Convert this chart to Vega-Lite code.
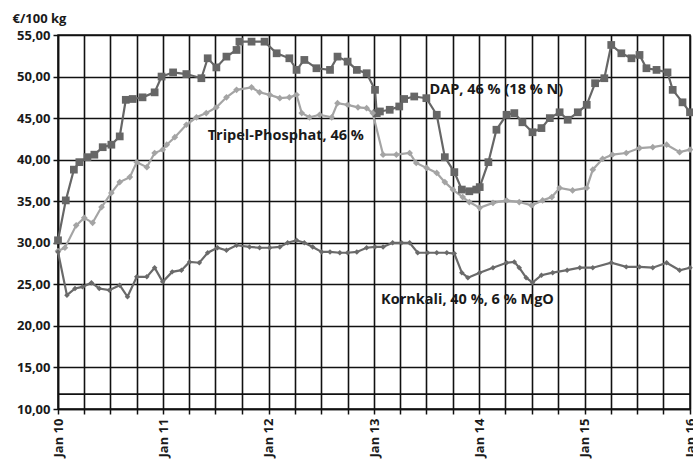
{
  "$schema": "https://vega.github.io/schema/vega-lite/v6.json",
  "autosize": {"type": "none"},
  "width": 632,
  "height": 374,
  "padding": {"left": 58, "top": 35, "right": 3, "bottom": 54},
  "background": "#ffffff",
  "config": {
    "font": "Open Sans",
    "view": {"stroke": "#111111", "strokeWidth": 1.5},
    "axis": {
      "domainColor": "#111111",
      "domainWidth": 1.5,
      "gridColor": "#111111",
      "gridWidth": 1.6,
      "gridOpacity": 1,
      "tickColor": "#111111",
      "tickWidth": 1.5,
      "tickSize": 5,
      "labelFont": "Open Sans",
      "labelFontWeight": "bold",
      "labelFontSize": 13,
      "labelColor": "#1a1a1a"
    }
  },
  "datasets": {
    "prices": [
      {"s": "DAP", "d": "2010-01-01", "v": 30.3},
      {"s": "DAP", "d": "2010-01-28", "v": 35.1},
      {"s": "DAP", "d": "2010-02-25", "v": 38.8},
      {"s": "DAP", "d": "2010-03-16", "v": 39.7},
      {"s": "DAP", "d": "2010-04-13", "v": 40.3},
      {"s": "DAP", "d": "2010-05-07", "v": 40.6},
      {"s": "DAP", "d": "2010-06-05", "v": 41.5},
      {"s": "DAP", "d": "2010-07-05", "v": 41.8},
      {"s": "DAP", "d": "2010-08-03", "v": 42.8},
      {"s": "DAP", "d": "2010-08-24", "v": 47.2},
      {"s": "DAP", "d": "2010-09-17", "v": 47.3},
      {"s": "DAP", "d": "2010-10-21", "v": 47.5},
      {"s": "DAP", "d": "2010-12-02", "v": 48.1},
      {"s": "DAP", "d": "2010-12-26", "v": 50.0},
      {"s": "DAP", "d": "2011-02-04", "v": 50.5},
      {"s": "DAP", "d": "2011-03-22", "v": 50.3},
      {"s": "DAP", "d": "2011-05-13", "v": 49.8},
      {"s": "DAP", "d": "2011-06-04", "v": 52.2},
      {"s": "DAP", "d": "2011-07-04", "v": 51.1},
      {"s": "DAP", "d": "2011-08-08", "v": 52.4},
      {"s": "DAP", "d": "2011-09-12", "v": 53.2},
      {"s": "DAP", "d": "2011-09-22", "v": 54.2},
      {"s": "DAP", "d": "2011-11-03", "v": 54.2},
      {"s": "DAP", "d": "2011-12-18", "v": 54.2},
      {"s": "DAP", "d": "2012-01-29", "v": 52.8},
      {"s": "DAP", "d": "2012-03-13", "v": 52.2},
      {"s": "DAP", "d": "2012-04-07", "v": 50.8},
      {"s": "DAP", "d": "2012-05-04", "v": 52.0},
      {"s": "DAP", "d": "2012-06-15", "v": 51.0},
      {"s": "DAP", "d": "2012-08-01", "v": 50.8},
      {"s": "DAP", "d": "2012-08-27", "v": 52.4},
      {"s": "DAP", "d": "2012-10-01", "v": 51.8},
      {"s": "DAP", "d": "2012-11-02", "v": 50.8},
      {"s": "DAP", "d": "2012-12-06", "v": 50.4},
      {"s": "DAP", "d": "2013-01-04", "v": 48.4},
      {"s": "DAP", "d": "2013-01-10", "v": 45.6},
      {"s": "DAP", "d": "2013-01-21", "v": 45.8},
      {"s": "DAP", "d": "2013-02-24", "v": 46.0},
      {"s": "DAP", "d": "2013-03-29", "v": 46.4},
      {"s": "DAP", "d": "2013-04-15", "v": 47.3},
      {"s": "DAP", "d": "2013-05-20", "v": 47.6},
      {"s": "DAP", "d": "2013-07-01", "v": 47.4},
      {"s": "DAP", "d": "2013-08-06", "v": 45.4},
      {"s": "DAP", "d": "2013-09-03", "v": 40.3},
      {"s": "DAP", "d": "2013-10-06", "v": 38.5},
      {"s": "DAP", "d": "2013-11-01", "v": 36.4},
      {"s": "DAP", "d": "2013-11-27", "v": 36.2},
      {"s": "DAP", "d": "2013-12-21", "v": 36.4},
      {"s": "DAP", "d": "2014-01-02", "v": 36.7},
      {"s": "DAP", "d": "2014-02-01", "v": 39.7},
      {"s": "DAP", "d": "2014-03-01", "v": 43.6},
      {"s": "DAP", "d": "2014-04-05", "v": 45.4},
      {"s": "DAP", "d": "2014-05-02", "v": 45.6},
      {"s": "DAP", "d": "2014-05-30", "v": 44.5},
      {"s": "DAP", "d": "2014-07-04", "v": 43.3},
      {"s": "DAP", "d": "2014-08-04", "v": 43.8},
      {"s": "DAP", "d": "2014-09-02", "v": 45.0},
      {"s": "DAP", "d": "2014-10-06", "v": 45.7},
      {"s": "DAP", "d": "2014-11-03", "v": 44.8},
      {"s": "DAP", "d": "2014-12-08", "v": 45.7},
      {"s": "DAP", "d": "2015-01-08", "v": 46.6},
      {"s": "DAP", "d": "2015-02-06", "v": 49.2},
      {"s": "DAP", "d": "2015-03-10", "v": 49.8},
      {"s": "DAP", "d": "2015-04-03", "v": 53.8},
      {"s": "DAP", "d": "2015-05-08", "v": 52.8},
      {"s": "DAP", "d": "2015-06-12", "v": 52.2},
      {"s": "DAP", "d": "2015-07-10", "v": 52.6},
      {"s": "DAP", "d": "2015-08-03", "v": 51.0},
      {"s": "DAP", "d": "2015-09-07", "v": 50.8},
      {"s": "DAP", "d": "2015-10-15", "v": 50.5},
      {"s": "DAP", "d": "2015-11-02", "v": 48.4},
      {"s": "DAP", "d": "2015-12-06", "v": 46.9},
      {"s": "DAP", "d": "2016-01-01", "v": 45.7},

      {"s": "Tripel", "d": "2010-01-01", "v": 29.0},
      {"s": "Tripel", "d": "2010-01-25", "v": 29.4},
      {"s": "Tripel", "d": "2010-03-05", "v": 32.1},
      {"s": "Tripel", "d": "2010-04-02", "v": 33.0},
      {"s": "Tripel", "d": "2010-05-01", "v": 32.4},
      {"s": "Tripel", "d": "2010-06-01", "v": 34.3},
      {"s": "Tripel", "d": "2010-07-05", "v": 36.0},
      {"s": "Tripel", "d": "2010-08-03", "v": 37.3},
      {"s": "Tripel", "d": "2010-09-07", "v": 37.9},
      {"s": "Tripel", "d": "2010-10-01", "v": 39.7},
      {"s": "Tripel", "d": "2010-11-05", "v": 39.1},
      {"s": "Tripel", "d": "2010-12-02", "v": 40.8},
      {"s": "Tripel", "d": "2010-12-30", "v": 41.2},
      {"s": "Tripel", "d": "2011-01-13", "v": 41.8},
      {"s": "Tripel", "d": "2011-02-10", "v": 42.7},
      {"s": "Tripel", "d": "2011-03-22", "v": 44.2},
      {"s": "Tripel", "d": "2011-04-26", "v": 45.1},
      {"s": "Tripel", "d": "2011-05-30", "v": 45.6},
      {"s": "Tripel", "d": "2011-07-04", "v": 46.3},
      {"s": "Tripel", "d": "2011-08-08", "v": 47.5},
      {"s": "Tripel", "d": "2011-09-12", "v": 48.4},
      {"s": "Tripel", "d": "2011-11-03", "v": 48.7},
      {"s": "Tripel", "d": "2011-12-01", "v": 48.1},
      {"s": "Tripel", "d": "2012-01-05", "v": 47.8},
      {"s": "Tripel", "d": "2012-02-09", "v": 47.4},
      {"s": "Tripel", "d": "2012-03-13", "v": 47.5},
      {"s": "Tripel", "d": "2012-04-07", "v": 47.8},
      {"s": "Tripel", "d": "2012-04-25", "v": 45.6},
      {"s": "Tripel", "d": "2012-05-22", "v": 45.1},
      {"s": "Tripel", "d": "2012-06-26", "v": 45.4},
      {"s": "Tripel", "d": "2012-08-07", "v": 45.1},
      {"s": "Tripel", "d": "2012-08-27", "v": 46.8},
      {"s": "Tripel", "d": "2012-10-01", "v": 46.6},
      {"s": "Tripel", "d": "2012-11-06", "v": 46.3},
      {"s": "Tripel", "d": "2012-12-06", "v": 46.2},
      {"s": "Tripel", "d": "2012-12-27", "v": 45.6},
      {"s": "Tripel", "d": "2013-02-01", "v": 40.6},
      {"s": "Tripel", "d": "2013-03-19", "v": 40.6},
      {"s": "Tripel", "d": "2013-05-04", "v": 40.8},
      {"s": "Tripel", "d": "2013-05-27", "v": 39.6},
      {"s": "Tripel", "d": "2013-07-02", "v": 39.0},
      {"s": "Tripel", "d": "2013-08-06", "v": 38.4},
      {"s": "Tripel", "d": "2013-09-03", "v": 37.3},
      {"s": "Tripel", "d": "2013-10-01", "v": 36.4},
      {"s": "Tripel", "d": "2013-11-04", "v": 35.5},
      {"s": "Tripel", "d": "2013-11-27", "v": 34.9},
      {"s": "Tripel", "d": "2014-01-02", "v": 34.2},
      {"s": "Tripel", "d": "2014-02-17", "v": 34.8},
      {"s": "Tripel", "d": "2014-04-05", "v": 35.1},
      {"s": "Tripel", "d": "2014-05-19", "v": 34.9},
      {"s": "Tripel", "d": "2014-07-01", "v": 34.5},
      {"s": "Tripel", "d": "2014-08-08", "v": 35.1},
      {"s": "Tripel", "d": "2014-09-09", "v": 35.5},
      {"s": "Tripel", "d": "2014-10-06", "v": 36.6},
      {"s": "Tripel", "d": "2014-11-20", "v": 36.3},
      {"s": "Tripel", "d": "2015-01-08", "v": 36.6},
      {"s": "Tripel", "d": "2015-01-29", "v": 38.8},
      {"s": "Tripel", "d": "2015-03-04", "v": 40.1},
      {"s": "Tripel", "d": "2015-04-07", "v": 40.6},
      {"s": "Tripel", "d": "2015-05-25", "v": 40.8},
      {"s": "Tripel", "d": "2015-07-10", "v": 41.4},
      {"s": "Tripel", "d": "2015-08-25", "v": 41.5},
      {"s": "Tripel", "d": "2015-10-12", "v": 41.8},
      {"s": "Tripel", "d": "2015-11-26", "v": 40.9},
      {"s": "Tripel", "d": "2016-01-01", "v": 41.2},

      {"s": "Kornkali", "d": "2010-01-01", "v": 28.9},
      {"s": "Kornkali", "d": "2010-02-01", "v": 23.7},
      {"s": "Kornkali", "d": "2010-03-01", "v": 24.5},
      {"s": "Kornkali", "d": "2010-03-27", "v": 24.7},
      {"s": "Kornkali", "d": "2010-04-27", "v": 25.2},
      {"s": "Kornkali", "d": "2010-05-24", "v": 24.5},
      {"s": "Kornkali", "d": "2010-06-28", "v": 24.3},
      {"s": "Kornkali", "d": "2010-08-03", "v": 24.9},
      {"s": "Kornkali", "d": "2010-08-30", "v": 23.5},
      {"s": "Kornkali", "d": "2010-10-01", "v": 25.9},
      {"s": "Kornkali", "d": "2010-11-05", "v": 25.9},
      {"s": "Kornkali", "d": "2010-12-02", "v": 27.0},
      {"s": "Kornkali", "d": "2010-12-30", "v": 25.3},
      {"s": "Kornkali", "d": "2011-02-01", "v": 26.5},
      {"s": "Kornkali", "d": "2011-03-05", "v": 26.7},
      {"s": "Kornkali", "d": "2011-04-02", "v": 27.7},
      {"s": "Kornkali", "d": "2011-05-06", "v": 27.6},
      {"s": "Kornkali", "d": "2011-06-04", "v": 28.8},
      {"s": "Kornkali", "d": "2011-07-08", "v": 29.4},
      {"s": "Kornkali", "d": "2011-08-08", "v": 29.1},
      {"s": "Kornkali", "d": "2011-09-12", "v": 29.7},
      {"s": "Kornkali", "d": "2011-10-27", "v": 29.5},
      {"s": "Kornkali", "d": "2011-12-01", "v": 29.4},
      {"s": "Kornkali", "d": "2012-01-05", "v": 29.4},
      {"s": "Kornkali", "d": "2012-02-09", "v": 29.5},
      {"s": "Kornkali", "d": "2012-03-07", "v": 30.0},
      {"s": "Kornkali", "d": "2012-04-07", "v": 30.3},
      {"s": "Kornkali", "d": "2012-05-04", "v": 30.0},
      {"s": "Kornkali", "d": "2012-06-02", "v": 29.5},
      {"s": "Kornkali", "d": "2012-07-03", "v": 28.9},
      {"s": "Kornkali", "d": "2012-08-01", "v": 28.9},
      {"s": "Kornkali", "d": "2012-09-04", "v": 28.8},
      {"s": "Kornkali", "d": "2012-10-01", "v": 28.8},
      {"s": "Kornkali", "d": "2012-11-02", "v": 28.9},
      {"s": "Kornkali", "d": "2012-12-06", "v": 29.4},
      {"s": "Kornkali", "d": "2013-01-04", "v": 29.5},
      {"s": "Kornkali", "d": "2013-02-01", "v": 29.5},
      {"s": "Kornkali", "d": "2013-03-06", "v": 30.0},
      {"s": "Kornkali", "d": "2013-04-06", "v": 30.0},
      {"s": "Kornkali", "d": "2013-05-04", "v": 30.0},
      {"s": "Kornkali", "d": "2013-06-01", "v": 28.8},
      {"s": "Kornkali", "d": "2013-07-05", "v": 28.8},
      {"s": "Kornkali", "d": "2013-08-06", "v": 28.8},
      {"s": "Kornkali", "d": "2013-09-10", "v": 28.8},
      {"s": "Kornkali", "d": "2013-10-06", "v": 28.7},
      {"s": "Kornkali", "d": "2013-11-01", "v": 26.4},
      {"s": "Kornkali", "d": "2013-11-22", "v": 25.8},
      {"s": "Kornkali", "d": "2014-01-02", "v": 26.4},
      {"s": "Kornkali", "d": "2014-02-17", "v": 27.0},
      {"s": "Kornkali", "d": "2014-04-05", "v": 27.6},
      {"s": "Kornkali", "d": "2014-05-02", "v": 27.7},
      {"s": "Kornkali", "d": "2014-05-19", "v": 27.0},
      {"s": "Kornkali", "d": "2014-06-12", "v": 25.8},
      {"s": "Kornkali", "d": "2014-07-04", "v": 25.2},
      {"s": "Kornkali", "d": "2014-08-04", "v": 26.1},
      {"s": "Kornkali", "d": "2014-09-12", "v": 26.4},
      {"s": "Kornkali", "d": "2014-11-01", "v": 26.7},
      {"s": "Kornkali", "d": "2014-12-15", "v": 27.0},
      {"s": "Kornkali", "d": "2015-01-29", "v": 27.0},
      {"s": "Kornkali", "d": "2015-04-03", "v": 27.6},
      {"s": "Kornkali", "d": "2015-05-25", "v": 27.1},
      {"s": "Kornkali", "d": "2015-07-10", "v": 27.1},
      {"s": "Kornkali", "d": "2015-08-25", "v": 27.0},
      {"s": "Kornkali", "d": "2015-10-12", "v": 27.6},
      {"s": "Kornkali", "d": "2015-11-26", "v": 26.7},
      {"s": "Kornkali", "d": "2016-01-01", "v": 27.0}
    ],
    "labels": [
      {"d": "2013-07-12", "v": 48.4, "t": "DAP, 46 % (18 % N)"},
      {"d": "2011-06-04", "v": 42.85, "t": "Tripel-Phosphat, 46 %"},
      {"d": "2013-01-25", "v": 23.1, "t": "Kornkali, 40 %, 6 % MgO"}
    ],
    "baseline": [
      {"d": "2010-01-01", "v": 11.8},
      {"d": "2016-01-01", "v": 11.8}
    ]
  },
  "layer": [
    {
      "data": {"name": "prices"},
      "mark": {"type": "line", "strokeWidth": 2.2},
      "encoding": {
        "x": {
          "field": "d", "type": "temporal",
          "scale": {"type": "utc", "domain": [{"year": 2010, "month": 1, "date": 1, "utc": true}, {"year": 2016, "month": 1, "date": 1, "utc": true}]},
          "axis": {
            "title": null,
            "tickCount": {"interval": "month", "step": 3},
            "labelAngle": -90,
            "labelPadding": 4,
            "labelOverlap": false,
            "labelExpr": "utcFormat(datum.value, '%m') == '01' ? 'Jan ' + utcFormat(datum.value, '%y') : ''",
            "grid": true
          }
        },
        "y": {
          "field": "v", "type": "quantitative",
          "scale": {"domain": [10, 55], "nice": false, "zero": false},
          "axis": {
            "values": [10, 15, 20, 25, 30, 35, 40, 45, 50, 55],
            "labelOverlap": false,
            "labelExpr": "replace(format(datum.value, '.2f'), '.', ',')",
            "labelPadding": 3,
            "title": "€/100 kg",
            "titleAngle": 0,
            "titleX": -46,
            "titleY": -13,
            "titleAlign": "left",
            "titleBaseline": "alphabetic",
            "titleFont": "Open Sans",
            "titleFontSize": 13,
            "titleFontWeight": "bold",
            "titleColor": "#1a1a1a",
            "grid": true
          }
        },
        "color": {
          "field": "s", "type": "nominal",
          "scale": {"domain": ["DAP", "Tripel", "Kornkali"], "range": ["#666666", "#a4a4a4", "#6a6a6a"]},
          "legend": null
        }
      }
    },
    {
      "data": {"name": "baseline"},
      "mark": {"type": "line", "color": "#111111", "strokeWidth": 1.8},
      "encoding": {
        "x": {"field": "d", "type": "temporal"},
        "y": {"field": "v", "type": "quantitative"}
      }
    },
    {
      "data": {"name": "prices"},
      "mark": {"type": "point", "filled": true, "opacity": 1, "strokeWidth": 1},
      "encoding": {
        "x": {"field": "d", "type": "temporal"},
        "y": {"field": "v", "type": "quantitative"},
        "shape": {
          "field": "s", "type": "nominal",
          "scale": {"domain": ["DAP", "Tripel", "Kornkali"], "range": ["square", "diamond", "diamond"]},
          "legend": null
        },
        "size": {
          "field": "s", "type": "nominal",
          "scale": {"domain": ["DAP", "Tripel", "Kornkali"], "range": [60, 30, 45]},
          "legend": null
        },
        "color": {"field": "s", "type": "nominal", "legend": null}
      }
    },
    {
      "data": {"name": "labels"},
      "mark": {"type": "text", "align": "left", "baseline": "middle", "font": "Open Sans", "fontWeight": "bold", "fontSize": 14.5, "color": "#1a1a1a"},
      "encoding": {
        "x": {"field": "d", "type": "temporal"},
        "y": {"field": "v", "type": "quantitative"},
        "text": {"field": "t"}
      }
    }
  ]
}
